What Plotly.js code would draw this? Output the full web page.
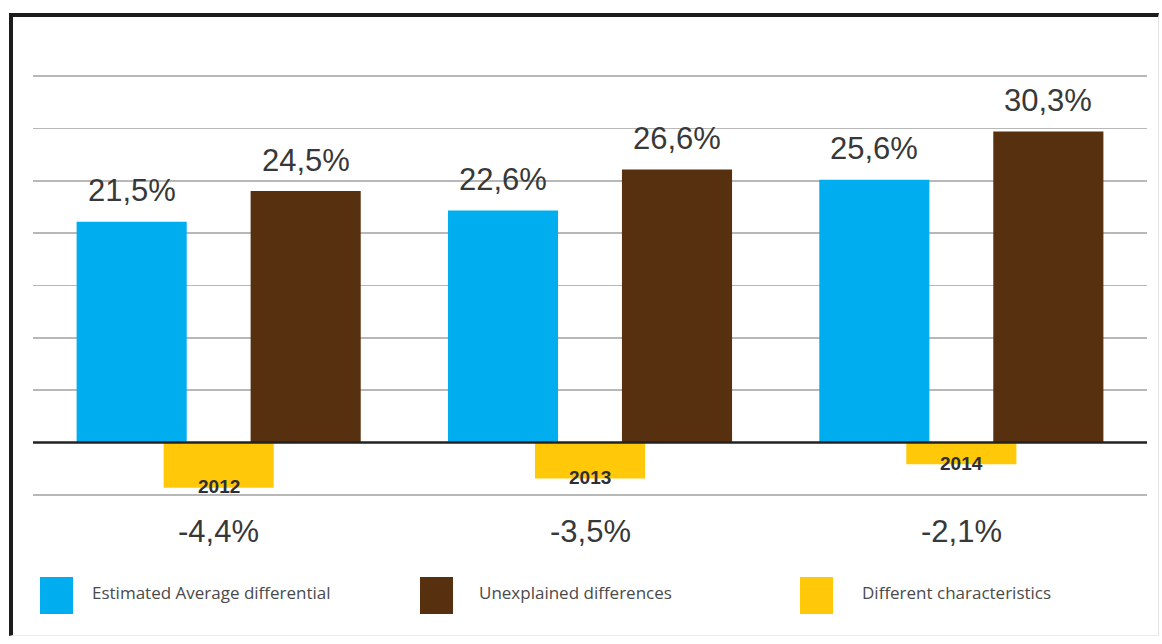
<!DOCTYPE html>
<html>
<head>
<meta charset="utf-8">
<script src="https://cdn.plot.ly/plotly-3.0.1.min.js"></script>
<style>
  html, body { margin: 0; padding: 0; background: #fff; overflow: hidden; }
  #chart { position: absolute; left: 0; top: 0; width: 1162px; height: 644px; }
  #frame { position: absolute; left: 9px; top: 13px; width: 1150px; height: 623px; box-sizing: border-box;
           border-top: 4px solid #1c1c1c; border-left: 4px solid #1c1c1c;
           border-right: 1px solid #e4e4e4; border-bottom: 1px solid #ececec; pointer-events: none; }
</style>
</head>
<body>
<div id="chart"></div>
<div id="frame"></div>
<script>
// ---- data ----
var years = ["2012", "2013", "2014"];
var estimatedAverage = [21.5, 22.6, 25.6];
var unexplained = [24.5, 26.6, 30.3];
var characteristics = [-4.4, -3.5, -2.1];
var seriesNames = ["Estimated Average differential", "Unexplained differences", "Different characteristics"];
var seriesColors = ["#00aeef", "#57300f", "#ffc90a"];

// ---- layout helpers ----
var xs = years.map(function (_, i) { return i; });
var barW = 0.2965;
var sideShift = 0.2343;
function fmt(v) { return v.toFixed(1).replace('.', ',') + '%'; }

var traces = [
  { type: 'bar', name: seriesNames[0], x: xs, y: estimatedAverage, width: barW, offset: -sideShift - barW / 2,
    marker: { color: seriesColors[0] }, hoverinfo: 'skip' },
  { type: 'bar', name: seriesNames[1], x: xs, y: unexplained, width: barW, offset: sideShift - barW / 2,
    marker: { color: seriesColors[1] }, hoverinfo: 'skip' },
  { type: 'bar', name: seriesNames[2], x: xs, y: characteristics, width: barW, offset: -barW / 2,
    marker: { color: seriesColors[2] }, hoverinfo: 'skip' }
];

var labelFont = { family: 'Liberation Sans, Arial, sans-serif', size: 31, color: '#383838' };
var annotations = [];
xs.forEach(function (x, i) {
  annotations.push({ x: x - sideShift, y: estimatedAverage[i], xref: 'x', yref: 'y', text: fmt(estimatedAverage[i]),
    showarrow: false, yanchor: 'middle', yshift: 31, font: labelFont });
  annotations.push({ x: x + sideShift, y: unexplained[i], xref: 'x', yref: 'y', text: fmt(unexplained[i]),
    showarrow: false, yanchor: 'middle', yshift: 31, font: labelFont });
  annotations.push({ x: x, y: characteristics[i], xref: 'x', yref: 'y', text: '<b>' + years[i] + '</b>',
    showarrow: false, yanchor: 'middle', yshift: 1,
    font: { family: 'Liberation Sans, Arial, sans-serif', size: 19, color: '#2e2e38' } });
  annotations.push({ x: x, y: -0.0835, xref: 'x', yref: 'paper', text: fmt(characteristics[i]),
    showarrow: false, yanchor: 'middle', font: labelFont });
});

// legend (drawn as swatches + text)
var shapes = [
  { type: 'line', xref: 'paper', yref: 'y', x0: 0, x1: 1, y0: 0, y1: 0, layer: 'above',
    line: { color: '#222', width: 2.5 } }
];
var legX = [40, 420, 800];
var legTextX = [90, 477, 860];
var plotL = 33, plotW = 1114, plotB = 496, plotH = 421;
function px2x(p) { return (p - plotL) / plotW; }
function px2y(p) { return (plotB - p) / plotH; }
seriesNames.forEach(function (n, i) {
  shapes.push({ type: 'rect', xref: 'paper', yref: 'paper', x0: px2x(legX[i]), x1: px2x(legX[i] + 33),
    y0: px2y(614), y1: px2y(577), fillcolor: seriesColors[i], line: { width: 0 } });
  annotations.push({ xref: 'paper', yref: 'paper', x: px2x(legTextX[i]), y: px2y(592), xanchor: 'left', yanchor: 'middle',
    text: n, showarrow: false, font: { family: 'Open Sans, sans-serif', size: 17, color: '#4a4a4a' } });
});

var layout = {
  width: 1162, height: 644,
  margin: { l: 33, r: 15, t: 75, b: 148 },
  paper_bgcolor: '#fff', plot_bgcolor: '#fff',
  barmode: 'overlay',
  showlegend: false,
  xaxis: { range: [-0.5, 2.5], showgrid: false, zeroline: false, showticklabels: false, ticks: '', fixedrange: true },
  yaxis: { range: [-5.2, 35.8], tick0: 0, dtick: 5.1, showgrid: true, gridcolor: '#b8b8b8', gridwidth: 1.5,
           zeroline: false, showticklabels: false, ticks: '', fixedrange: true },
  shapes: shapes,
  annotations: annotations
};

Plotly.newPlot('chart', traces, layout, { displayModeBar: false, staticPlot: true });
</script>
</body>
</html>
